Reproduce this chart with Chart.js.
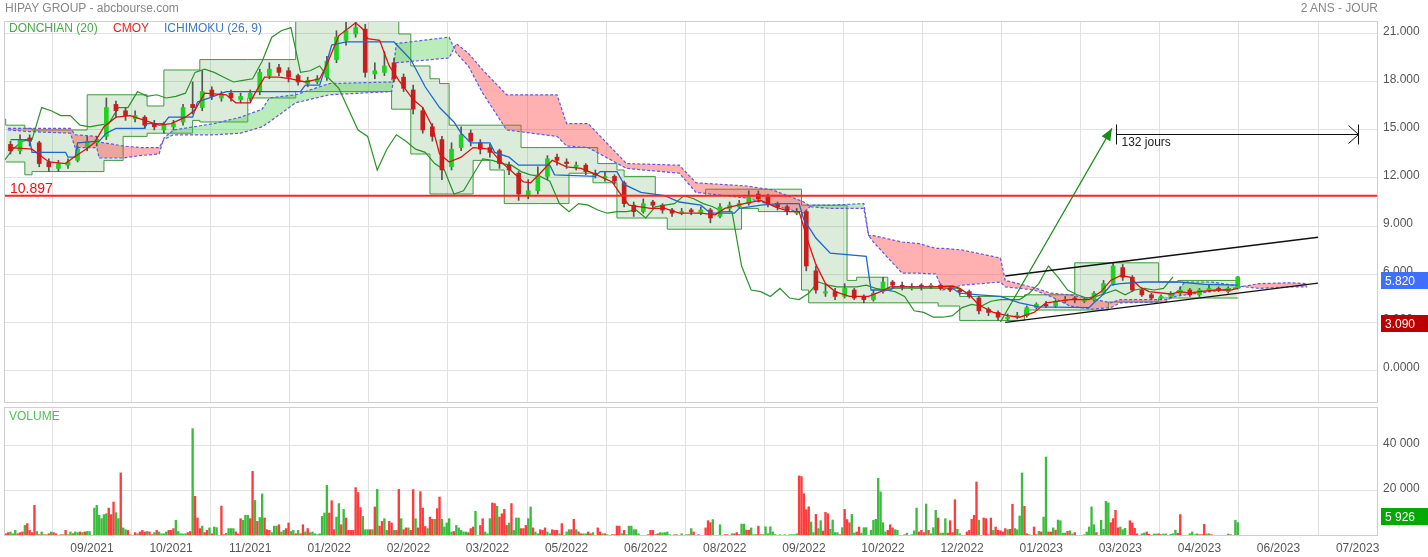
<!DOCTYPE html>
<html>
<head>
<meta charset="utf-8">
<title>HIPAY GROUP - abcbourse.com</title>
<script src="https://cdn.jsdelivr.net/npm/chart.js@4.4.1/dist/chart.umd.min.js"></script>
<style>
  html, body { margin: 0; padding: 0; background: #fff; }
  #wrap { position: relative; width: 1428px; height: 557px; overflow: hidden; font-family: 'Liberation Sans', Arial, sans-serif; }
  #priceCanvas { position: absolute; left: 0; top: 0; }
  #volumeCanvas { position: absolute; left: 0; top: 405px; }
  .lbl { position: absolute; font-size: 12px; line-height: 14px; white-space: nowrap; }
</style>
</head>
<body>
<div id="wrap">
  <canvas id="priceCanvas" width="1428" height="405"></canvas>
  <canvas id="volumeCanvas" width="1428" height="152"></canvas>
  <div class="lbl" style="left:5px;top:1px;color:#888">HIPAY GROUP - abcbourse.com</div>
  <div class="lbl" style="right:50px;top:1px;color:#888">2 ANS - JOUR</div>
  <div class="lbl" style="left:9px;top:21px;color:#4aa84a">DONCHIAN (20)</div>
  <div class="lbl" style="left:113px;top:21px;color:#e82020">CMOY</div>
  <div class="lbl" style="left:164px;top:21px;color:#3a78c8">ICHIMOKU (26, 9)</div>
  <div class="lbl" style="left:9px;top:409px;color:#55bb55">VOLUME</div>
</div>
<script>
// x axis is counted in trading days from the first session shown
const tickDays = [36, 69, 102, 135, 168, 201, 234, 267, 300, 333, 366, 399, 432, 465, 498, 531, 564];
const tickLabels = ['09/2021', '10/2021', '11/2021', '01/2022', '02/2022', '03/2022', '05/2022', '06/2022',
  '08/2022', '09/2022', '10/2022', '12/2022', '01/2023', '03/2023', '04/2023', '06/2023', '07/2023'];
const priceTicks = [0, 3, 6, 9, 12, 15, 18, 21];
const volumeTicks = [20000, 40000];

// candles, one every 4 sessions
const candleOpen = [
  14.1, 13.7, 14.5, 14.2, 13.0, 12.6, 12.8, 13.1, 13.9, 14.2,
  14.6, 16.6, 16.2, 15.7, 15.8, 15.4, 15.0, 15.2, 15.5, 16.6,
  16.4, 17.5, 17.0, 17.3, 16.9, 17.0, 17.4, 18.4, 18.9, 18.7,
  18.4, 17.9, 18.0, 18.3, 19.4, 20.6, 21.0, 21.3, 18.5, 18.6,
  19.2, 18.3, 17.5, 16.2, 15.2, 14.4, 12.7, 13.9, 14.8, 14.2,
  13.9, 13.7, 12.8, 12.3, 10.9, 11.2, 12.1, 13.3, 13.0, 12.7,
  12.8, 12.3, 12.0, 12.1, 11.7, 10.3, 9.9, 10.5, 10.3, 10.0,
  9.8, 10.0, 9.8, 10.0, 9.6, 10.1, 10.2, 10.4, 11.0, 10.8,
  10.4, 10.2, 9.8, 9.9, 6.2, 4.8, 4.9, 4.6, 5.0, 4.6,
  4.4, 4.9, 5.5, 5.3, 5.1, 5.3, 5.2, 5.3, 5.1, 5.0,
  4.9, 4.5, 3.8, 3.6, 3.2, 3.3, 3.4, 3.9, 4.1, 4.0,
  4.3, 4.5, 4.3, 4.4, 4.8, 5.4, 6.4, 5.8, 5.0, 4.7,
  4.5, 4.6, 4.8, 5.0, 4.7, 5.0, 5.1, 4.9, 5.1
];
const candleHigh = [
  14.3, 14.7, 14.7, 14.3, 13.2, 13.1, 13.2, 14.0, 14.6, 14.6,
  17.0, 16.8, 16.4, 16.2, 15.9, 15.6, 15.5, 15.6, 16.6, 18.0,
  18.7, 17.7, 17.4, 17.5, 17.3, 17.5, 18.8, 19.2, 19.1, 18.9,
  18.5, 18.3, 18.4, 19.6, 21.2, 21.8, 22.0, 21.6, 19.2, 19.9,
  19.5, 18.5, 17.8, 16.4, 15.4, 14.6, 14.2, 15.2, 15.0, 14.4,
  14.1, 13.8, 13.0, 12.4, 11.9, 12.7, 13.4, 13.5, 13.2, 13.0,
  12.9, 12.5, 12.4, 12.2, 11.8, 10.5, 10.7, 10.6, 10.4, 10.1,
  10.1, 10.1, 10.2, 10.1, 10.4, 10.5, 10.6, 11.2, 11.2, 11.0,
  10.5, 10.3, 10.1, 10.0, 6.5, 5.4, 5.1, 5.4, 5.1, 4.7,
  5.0, 5.8, 5.6, 5.5, 5.4, 5.4, 5.4, 5.4, 5.2, 5.1,
  5.0, 4.6, 3.9, 3.7, 3.5, 3.6, 4.0, 4.2, 4.3, 4.4,
  4.6, 4.6, 4.5, 4.9, 5.6, 6.7, 6.6, 5.9, 5.1, 4.8,
  4.7, 4.9, 5.2, 5.1, 5.1, 5.3, 5.2, 5.2, 5.85
];
const candleLow = [
  13.5, 13.5, 14.0, 12.7, 12.4, 12.4, 12.6, 13.0, 13.7, 14.0,
  14.4, 15.8, 15.6, 15.5, 15.1, 15.0, 14.8, 15.0, 15.3, 16.0,
  16.2, 16.9, 16.8, 16.8, 16.7, 16.8, 17.2, 18.2, 18.4, 18.0,
  17.8, 17.7, 17.9, 18.1, 19.2, 20.3, 20.8, 18.3, 18.2, 18.4,
  18.0, 17.4, 16.0, 14.8, 14.3, 11.9, 12.5, 13.7, 14.0, 13.5,
  13.3, 12.6, 12.2, 10.6, 10.7, 11.0, 11.9, 12.8, 12.6, 12.5,
  12.2, 12.0, 11.8, 11.6, 10.2, 9.6, 9.8, 10.1, 9.8, 9.6,
  9.7, 9.7, 9.7, 9.2, 9.5, 9.9, 10.1, 10.3, 10.5, 10.2,
  10.0, 9.7, 9.7, 6.2, 4.8, 4.6, 4.4, 4.5, 4.4, 4.2,
  4.3, 4.8, 5.1, 5.0, 5.0, 5.0, 5.1, 5.0, 4.9, 4.7,
  4.5, 3.5, 3.4, 3.1, 3.1, 3.2, 3.3, 3.8, 3.9, 3.9,
  4.2, 4.2, 4.2, 4.3, 4.7, 5.3, 5.6, 4.9, 4.6, 4.4,
  4.4, 4.5, 4.7, 4.6, 4.6, 4.9, 4.9, 4.8, 5.05
];
const candleClose = [
  13.7, 14.4, 14.3, 12.9, 12.7, 12.9, 13.0, 13.8, 14.3, 14.4,
  16.4, 16.2, 15.9, 15.9, 15.3, 15.2, 15.3, 15.4, 16.4, 16.4,
  17.4, 17.1, 17.2, 17.0, 17.1, 17.3, 18.6, 18.8, 18.6, 18.3,
  18.0, 18.1, 18.2, 19.3, 20.8, 21.2, 21.4, 18.6, 18.7, 19.0,
  18.2, 17.6, 16.3, 15.0, 14.6, 12.5, 13.8, 14.7, 14.3, 13.8,
  13.6, 12.9, 12.5, 11.0, 11.2, 12.2, 13.2, 13.1, 12.9, 12.8,
  12.4, 12.2, 12.1, 11.8, 10.4, 9.9, 10.4, 10.3, 10.0, 9.8,
  9.9, 9.9, 10.0, 9.5, 10.2, 10.3, 10.4, 10.9, 10.7, 10.4,
  10.2, 9.9, 9.9, 6.5, 5.0, 4.9, 4.6, 5.1, 4.5, 4.4,
  4.8, 5.5, 5.3, 5.2, 5.2, 5.2, 5.3, 5.1, 5.0, 4.9,
  4.6, 3.7, 3.6, 3.3, 3.3, 3.4, 3.9, 4.1, 4.0, 4.3,
  4.4, 4.4, 4.4, 4.8, 5.4, 6.5, 5.8, 5.0, 4.7, 4.5,
  4.6, 4.8, 5.0, 4.7, 5.0, 5.1, 5.0, 5.1, 5.82
];
const chikouShift = 27;

// Donchian (20) channel, read as steps
const donchDays = [0, 8, 11, 34, 41, 49, 59, 66, 78, 81, 101, 121, 133, 161, 164, 169, 177, 181, 185, 195,
  202, 208, 215, 223, 235, 245, 247, 255, 258, 271, 276, 292, 307, 314, 332, 335, 336, 351, 355, 368,
  389, 398, 405, 425, 446, 460, 467, 481, 489, 514];
const donchHigh = [15.7, 15.3, 15.1, 15.0, 17.2, 17.2, 17.2, 16.5, 18.75, 18.75, 19.4, 19.4, 23, 23, 23, 21.0, 19.0, 18.2, 17.9, 15.3,
  15.3, 15.3, 15.3, 13.9, 13.9, 13.9, 13.9, 12.9, 12.5, 12.1, 10.9, 10.9, 11.3, 11.3, 11.3, 10.3, 10.3, 10.3, 5.6, 5.8,
  5.1, 5.1, 4.6, 4.6, 4.7, 6.7, 6.7, 6.7, 5.5, 5.6];
const donchLow = [13.0, 13.0, 12.2, 12.4, 12.4, 13.1, 14.6, 14.8, 14.8, 15.6, 15.5, 17.0, 17.4, 17.4, 16.3, 16.3, 13.5, 11.0, 11.0, 11.0,
  13.1, 12.5, 10.4, 10.4, 10.4, 12.3, 11.7, 11.7, 9.5, 9.5, 9.5, 8.8, 8.8, 10.1, 9.9, 5.0, 4.2, 4.2, 4.2, 4.2,
  4.2, 4.0, 3.1, 3.1, 3.75, 3.75, 4.25, 4.25, 4.5, 4.5];

// CMOY
const cmoyDays = [2, 11, 18, 25, 28, 33, 37, 41, 46, 52, 58, 64, 69, 75, 79, 83, 92, 96, 102, 104,
  108, 114, 119, 125, 131, 134, 139, 146, 149, 151, 156, 160, 164, 170, 174, 178, 181, 185, 190, 195,
  202, 206, 212, 216, 219, 223, 228, 234, 240, 245, 253, 256, 260, 269, 275, 281, 290, 296, 300, 308,
  315, 321, 327, 331, 335, 338, 342, 346, 352, 360, 365, 369, 386, 395, 398, 402, 406, 412, 418, 423,
  429, 434, 444, 452, 457, 461, 465, 469, 473, 477, 486, 490, 494, 498, 505, 511, 514];
const cmoyValues = [13.9, 13.8, 13.0, 12.9, 13.25, 13.75, 14.2, 15.2, 15.8, 15.9, 15.6, 15.3, 15.4, 15.8, 16.25, 17.3, 17.2, 16.7, 16.7, 17.3,
  18.3, 18.3, 18.2, 18.0, 18.2, 19.1, 20.9, 21.7, 21.3, 20.7, 20.6, 19.0, 18.1, 16.9, 16.4, 15.2, 13.5, 13.0, 13.3, 13.9,
  13.8, 13.1, 12.3, 11.75, 11.7, 12.3, 13.1, 12.7, 12.6, 12.3, 11.75, 11.1, 10.3, 10.1, 10.1, 9.8, 9.8, 9.7, 10.1, 10.4,
  10.6, 10.2, 9.9, 9.9, 7.9, 6.6, 5.4, 4.9, 4.6, 4.6, 4.9, 5.2, 5.2, 5.25, 5.1, 4.7, 4.06, 3.6, 3.4, 3.3,
  3.6, 4.2, 4.4, 4.4, 4.9, 5.6, 5.9, 5.8, 5.2, 4.9, 4.75, 4.9, 4.8, 4.9, 5.0, 5.0, 5.1];

// Ichimoku base line
const kijunDays = [2, 10, 11, 25, 26, 29, 30, 39, 42, 46, 58, 59, 66, 68, 78, 80, 85, 92, 123, 125,
  131, 133, 136, 142, 162, 169, 175, 181, 187, 190, 194, 202, 204, 210, 214, 227, 229, 246, 248, 255,
  258, 265, 275, 281, 290, 294, 304, 306, 315, 323, 331, 333, 338, 344, 359, 361, 369, 371, 394, 398,
  406, 415, 423, 431, 452, 454, 457, 461, 465, 475, 490, 500, 514];
const kijunValues = [14.4, 14.4, 13.6, 13.6, 13.3, 13.3, 14.2, 14.3, 14.8, 15.1, 15.1, 15.4, 15.4, 15.8, 15.8, 16.75, 17.0, 17.4, 17.4, 17.8,
  17.8, 18.75, 20.3, 20.5, 20.5, 19.4, 17.7, 16.4, 15.5, 14.8, 14.2, 14.2, 13.6, 13.3, 12.8, 12.8, 12.2, 12.1, 12.4, 12.4,
  11.6, 11.1, 10.9, 10.5, 10.3, 9.8, 9.8, 10.1, 10.3, 10.4, 10.4, 9.4, 8.25, 7.3, 7.1, 5.0, 5.0, 5.2, 5.2, 4.8,
  4.7, 4.6, 4.2, 3.95, 3.9, 4.2, 4.6, 5.3, 5.4, 5.5, 5.5, 5.35, 5.3];

// Ichimoku cloud (leading spans, already shifted forward)
const cloudDays = [1, 10, 27, 29, 38, 39, 49, 56, 64, 66, 70, 87, 98, 107, 110, 121, 135, 161, 163, 185,
  188, 193, 199, 209, 230, 234, 243, 259, 281, 288, 309, 320, 333, 336, 344, 358, 360, 362, 374, 381,
  388, 391, 399, 415, 417, 429, 436, 444, 453, 461, 465, 484, 488, 492, 503, 512, 517, 523, 536, 543];
const spanA = [15.0, 14.9, 14.8, 13.9, 13.9, 13.25, 13.25, 13.4, 13.5, 14.5, 15.0, 15.4, 15.8, 16.3, 17.0, 17.2, 17.9, 18.0, 20.4, 20.8,
  19.8, 19.0, 17.3, 15.0, 14.6, 14.0, 13.9, 12.6, 12.3, 11.1, 10.75, 10.3, 9.8, 10.3, 10.3, 10.4, 8.4, 8.0, 6.05, 6.05,
  6.0, 5.0, 5.3, 5.5, 5.2, 5.0, 4.6, 4.0, 3.8, 3.9, 4.2, 4.25, 4.8, 5.5, 5.5, 5.3, 5.2, 5.1, 5.2, 5.2];
const spanB = [15.1, 15.1, 15.1, 14.7, 14.6, 14.25, 14.0, 13.9, 13.9, 14.4, 14.7, 14.7, 14.8, 15.2, 15.5, 16.7, 17.2, 17.4, 19.2, 19.5,
  20.4, 19.8, 18.75, 17.2, 17.2, 15.4, 15.4, 12.9, 12.8, 11.7, 11.5, 11.25, 10.5, 10.2, 10.1, 10.1, 8.4, 8.4, 8.0, 7.9,
  7.6, 7.6, 7.5, 7.0, 5.6, 5.15, 4.8, 4.7, 4.45, 4.2, 4.4, 4.4, 4.6, 4.7, 4.9, 5.1, 5.25, 5.4, 5.45, 5.4];

// drawings on the price panel
const refLevel = 10.897;
const channelUpper = [[417, 5.875], [547.5, 8.3]];
const channelLower = [[417, 2.98], [547.5, 5.43]];
const arrowUp = [[415, 3.0], [461.5, 15.1]];
const measureDays = [463, 564];
const measureLevel = 14.75;
const measureLabel = '132 jours';
const lastPrice = 5.82;
const lowPrice = 3.09;

// daily volume, and the direction of each session (g up, r down)
const volumes = [
  1000, 1500, 1800, 1000, 2500, 1000, 1500, 1800, 4700, 5500,
  2500, 1500, 13600, 2000, 600, 1800, 600, 600, 1000, 1800,
  1500, 1000, 300, 600, 600, 2500, 600, 1800, 1000, 1800,
  1500, 1800, 1500, 1800, 2000, 2000, 300, 12400, 13600, 9200,
  7700, 9500, 9900, 12400, 9500, 15100, 10400, 7700, 28000, 3600,
  2800, 2500, 600, 300, 1500, 1000, 1800, 2500, 1800, 2000,
  1800, 600, 1500, 2500, 1800, 1000, 1000, 1800, 2500, 2500,
  3300, 7000, 2000, 1000, 900, 1000, 1500, 2000, 47700, 17600,
  8000, 3300, 4400, 1500, 2500, 3600, 1000, 4000, 3700, 300,
  13300, 600, 1200, 3300, 3300, 3300, 1800, 900, 7700, 7000,
  9200, 9200, 7700, 28700, 15800, 6500, 8200, 18700, 8000, 2800,
  2500, 1500, 4400, 4400, 5000, 1800, 2500, 3300, 5800, 2000,
  2500, 1000, 2500, 1000, 5000, 1800, 3300, 1500, 1800, 1000,
  600, 1000, 8700, 10200, 22500, 10200, 15700, 2800, 8400, 14400,
  5000, 11800, 8000, 2500, 2500, 2500, 21500, 19300, 12600, 8700,
  2800, 2800, 2800, 2800, 12900, 20700, 4400, 6500, 7700, 2500,
  6500, 5800, 2500, 2500, 20700, 7700, 2800, 3600, 3600, 2500,
  20600, 7700, 3600, 19700, 12400, 4200, 3300, 8400, 7400, 7400,
  12150, 17300, 7400, 4000, 5800, 7700, 1800, 2000, 4700, 3600,
  2500, 1800, 1800, 1500, 3300, 4000, 11000, 300, 4700, 7700,
  1800, 1000, 7700, 14700, 14400, 13200, 8400, 9900, 11800, 4700,
  5800, 14400, 2500, 8000, 8000, 3300, 3300, 4700, 7700, 12900,
  3600, 1800, 1000, 2800, 2500, 3600, 1800, 1000, 2800, 2500,
  2500, 1000, 5500, 300, 1800, 2800, 2800, 7400, 2800, 1800,
  1000, 1000, 1000, 1800, 1000, 1500, 300, 3600, 1800, 1000,
  1000, 600, 300, 600, 600, 4400, 4400, 1000, 2500, 600,
  4400, 4400, 2800, 2800, 1000, 300, 300, 300, 600, 2500,
  2500, 600, 1000, 1500, 1400, 1500, 1800, 600, 300, 600,
  600, 300, 1000, 300, 600, 600, 3300, 1800, 300, 600,
  300, 300, 3600, 6800, 5900, 7300, 300, 300, 5000, 300,
  600, 600, 300, 1000, 1000, 1500, 600, 5300, 5300, 2600,
  2600, 3600, 600, 600, 4400, 600, 600, 4100, 1000, 4100,
  1800, 600, 300, 600, 300, 600, 300, 600, 600, 600,
  1000, 26700, 26400, 18800, 11700, 13000, 6200, 1500, 9600, 3300,
  6800, 2200, 10500, 9900, 3000, 7100, 1500, 1500, 600, 3700,
  11800, 7300, 5900, 9600, 1300, 1800, 4000, 1300, 3700, 3700,
  300, 2600, 7000, 7400, 25600, 19600, 5900, 1800, 2500, 5000,
  3600, 2800, 2600, 300, 300, 600, 1300, 300, 600, 2300,
  12400, 1800, 2500, 1500, 14200, 2500, 1000, 3700, 11400, 8000,
  1300, 1300, 7700, 1300, 6800, 1500, 16100, 3000, 1000, 300,
  300, 1800, 2500, 7400, 9200, 24000, 7000, 300, 8000, 7700,
  600, 8000, 2500, 4000, 2500, 2300, 1800, 3300, 2800, 3000,
  14100, 3300, 2800, 8900, 28000, 13200, 1000, 600, 300, 4000,
  600, 2100, 1800, 8400, 35100, 1800, 1800, 3600, 2600, 7100,
  6800, 1300, 1300, 2100, 2300, 900, 1500, 300, 300, 300,
  600, 1800, 4000, 12900, 5000, 1500, 300, 7000, 3000, 15400,
  14700, 5900, 7700, 11400, 3600, 4000, 2800, 3400, 300, 6800,
  5800, 3400, 1000, 300, 1000, 1300, 1800, 800, 300, 900,
  900, 1000, 600, 900, 900, 300, 800, 1000, 2600, 1200,
  9500, 300, 200, 300, 1000, 1800, 600, 1000, 600, 600,
  5200, 900, 1000, 600, 300, 300, 300, 300, 300, 300,
  900, 600, 300, 7000, 5926
];
const volumeDir = [
  'rrgggrrrgr', 'rrrgrgrgrg', 'rrgrgrggrg', 'grgrggrggg', 'gggrrrggrg', 'grggrgrrrg', 'rrgrggggrr', 'rgggggrrgr',
  'rrgrrgrggr', 'rrggggrrrg', 'ggrrgrggrr', 'rgggrggrrg', 'grgrrgrggg', 'gggggrrrgg', 'rgrrrrrrrg', 'ggrgrgrrgg',
  'rrgrrgrrgr', 'rgrrrrgrrg', 'rrgggggrgg', 'gggrrrgrrr', 'gggrrgrrrr', 'grgggrrrgg', 'rggrrrggrr', 'rgrgggrrgr',
  'rggrrggrrg', 'rggrrrrgrg', 'ggggggrgrr', 'rgrggggggr', 'gggrgrgrgr', 'grrrrggrgg', 'rrggrrrggr', 'rggrrrgggg',
  'ggggggrggg', 'grrrrrggrg', 'grrrggggrg', 'rrrggrrggg', 'ggggggggrr', 'rgggrrgggg', 'grrrgrgggr', 'gggrrrrggg',
  'grrrrrggrr', 'rrgrrrrrgr', 'rggggrrggr', 'rgrggrrgrg', 'gggrggrrgr', 'gggggrrggg', 'grrrrggggr', 'rrrgggrrrg',
  'grrggggggr', 'rrggggggrr', 'rggrgggrgg', 'grggg'
].join('');
const lastVolume = 5926;

Chart.defaults.font.family = "'Liberation Sans', Arial, sans-serif";
Chart.defaults.font.size = 12;
Chart.defaults.color = '#555';
Chart.defaults.animation = false;

const X_MIN = -0.7, X_MAX = 572.5;
const GRID = '#e2e2e2';
const FONT = "'Liberation Sans', Arial, sans-serif";

function xAxis(showLabels) {
  return {
    type: 'linear', min: X_MIN, max: X_MAX, offset: false,
    grid: { color: GRID, drawTicks: false },
    border: { display: false },
    ticks: {
      display: showLabels, autoSkip: false, maxRotation: 0, padding: 5, color: '#555',
      callback: (v, i) => tickLabels[i]
    },
    afterBuildTicks: s => { s.ticks = tickDays.map(v => ({ value: v })); },
    afterFit: s => { s.height = showLabels ? 21 : 0; }
  };
}

// right-hand axis: fixed width, and no extra room reserved for its end labels
function yAxis(min, max, ticks, format) {
  return {
    position: 'right', min: min, max: max,
    grid: { color: GRID, drawTicks: false },
    border: { display: false },
    ticks: { padding: 5, color: '#555', labelOffset: -2, callback: format },
    afterBuildTicks: s => { s.ticks = ticks.map(v => ({ value: v })); },
    afterFit: s => { s.width = 50; s.paddingTop = 0; s.paddingBottom = 0; }
  };
}

const pts = (xs, ys) => xs.map((x, i) => ({ x: x, y: ys[i] }));
const pairPts = arr => arr.map(p => ({ x: p[0], y: p[1] }));
const lineStyle = (color, width) => ({ type: 'line', borderColor: color, borderWidth: width, pointRadius: 0, fill: false, tension: 0 });

const candleX = candleOpen.map((_, i) => 2 + 4 * i);
const bodyColors = candleOpen.map((o, i) => candleClose[i] >= o ? '#1ed21e' : '#c81e1e');

function frame(chart) {
  const { ctx, chartArea: a } = chart;
  ctx.save();
  ctx.strokeStyle = '#cfcfcf';
  ctx.lineWidth = 1;
  ctx.strokeRect(a.left + 0.5, a.top + 0.5, a.right - a.left - 1, a.bottom - a.top - 1);
  ctx.restore();
}

function valueBox(ctx, left, cy, text, bg) {
  ctx.fillStyle = bg;
  ctx.fillRect(left, Math.round(cy - 8.5), 1428 - left, 17);
  ctx.fillStyle = '#fff';
  ctx.font = '12px ' + FONT;
  ctx.textBaseline = 'middle';
  ctx.textAlign = 'left';
  ctx.fillText(text, left + 4, Math.round(cy) + 0.5);
}

const priceDecor = {
  id: 'priceDecor',
  afterDatasetsDraw(chart) {
    const { ctx, chartArea: a, scales: { x, y } } = chart;
    ctx.save();
    ctx.beginPath();
    ctx.rect(a.left, a.top, a.right - a.left, a.bottom - a.top);
    ctx.clip();

    // level label
    ctx.fillStyle = '#ee1111';
    ctx.font = '14px ' + FONT;
    ctx.textBaseline = 'alphabetic';
    ctx.fillText(refLevel.toFixed(3), a.left + 6, y.getPixelForValue(refLevel) - 3);

    // head of the green arrow
    const p0 = [x.getPixelForValue(arrowUp[0][0]), y.getPixelForValue(arrowUp[0][1])];
    const p1 = [x.getPixelForValue(arrowUp[1][0]), y.getPixelForValue(arrowUp[1][1])];
    const ang = Math.atan2(p1[1] - p0[1], p1[0] - p0[0]);
    const c = Math.cos(ang), s = Math.sin(ang);
    ctx.fillStyle = '#1a8a1a';
    ctx.beginPath();
    ctx.moveTo(p1[0], p1[1]);
    ctx.lineTo(p1[0] - 12 * c + 5 * s, p1[1] - 12 * s - 5 * c);
    ctx.lineTo(p1[0] - 12 * c - 5 * s, p1[1] - 12 * s + 5 * c);
    ctx.closePath();
    ctx.fill();

    // duration measure
    const mx0 = Math.round(x.getPixelForValue(measureDays[0])) + 0.5;
    const mx1 = Math.round(x.getPixelForValue(measureDays[1])) + 0.5;
    const my = Math.round(y.getPixelForValue(measureLevel)) + 0.5;
    ctx.strokeStyle = '#111';
    ctx.lineWidth = 1;
    ctx.beginPath();
    ctx.moveTo(mx0, my); ctx.lineTo(mx1, my);
    ctx.moveTo(mx0, my - 10); ctx.lineTo(mx0, my + 10);
    ctx.moveTo(mx1, my - 10); ctx.lineTo(mx1, my + 10);
    ctx.moveTo(mx1 - 10, my - 9); ctx.lineTo(mx1, my); ctx.lineTo(mx1 - 10, my + 9);
    ctx.stroke();
    ctx.fillStyle = '#222';
    ctx.font = '12px ' + FONT;
    ctx.textBaseline = 'middle';
    ctx.fillText(measureLabel, mx0 + 5, my + 8);
    ctx.restore();
  },
  afterDraw(chart) {
    frame(chart);
    const { ctx, chartArea: a, scales: { y } } = chart;
    ctx.save();
    valueBox(ctx, a.right + 3, y.getPixelForValue(lastPrice) + 4, lastPrice.toFixed(3), '#3f6fff');
    valueBox(ctx, a.right + 3, y.getPixelForValue(lowPrice) + 3, lowPrice.toFixed(3), '#bb0000');
    ctx.restore();
  }
};

new Chart(document.getElementById('priceCanvas'), {
  type: 'line',
  data: {
    datasets: [
      Object.assign(lineStyle('#3d9a3d', 1), { data: pts(donchDays, donchHigh), stepped: 'after', fill: '+1', backgroundColor: 'rgba(40,140,40,0.17)', order: 20 }),
      Object.assign(lineStyle('#3d9a3d', 1), { data: pts(donchDays, donchLow), stepped: 'after', order: 19 }),
      Object.assign(lineStyle('#5060e8', 1.2), { data: pts(cloudDays, spanA), borderDash: [3, 2],
        fill: { target: '+1', above: 'rgba(60,200,60,0.35)', below: 'rgba(255,60,60,0.4)' }, order: 18 }),
      Object.assign(lineStyle('#7050e0', 1.2), { data: pts(cloudDays, spanB), borderDash: [3, 2], order: 17 }),
      Object.assign(lineStyle('#2a922a', 1.2), { data: candleClose.map((v, i) => ({ x: candleX[i] - chikouShift, y: v })), order: 16 }),
      { type: 'bar', data: candleX.map((x, i) => ({ x: x, y: [candleLow[i], candleHigh[i]] })),
        backgroundColor: '#555', barThickness: 1, grouped: false, order: 15 },
      { type: 'bar', data: candleX.map((x, i) => ({ x: x, y: [candleOpen[i], candleClose[i]] })),
        backgroundColor: bodyColors, barThickness: 4, grouped: false, order: 14 },
      Object.assign(lineStyle('#1f66cc', 1.3), { data: pts(kijunDays, kijunValues), order: 13 }),
      Object.assign(lineStyle('#dd1111', 1.3), { data: pts(cmoyDays, cmoyValues), order: 12 }),
      Object.assign(lineStyle('#ff2222', 2), { data: [{ x: X_MIN, y: refLevel }, { x: X_MAX, y: refLevel }], order: 11 }),
      Object.assign(lineStyle('#111', 1.4), { data: pairPts(channelUpper), order: 10 }),
      Object.assign(lineStyle('#111', 1.4), { data: pairPts(channelLower), order: 9 }),
      Object.assign(lineStyle('#1a8a1a', 1.2), { data: pairPts(arrowUp), order: 8 })
    ]
  },
  options: {
    responsive: false,
    devicePixelRatio: 1,
    events: [],
    layout: { padding: { left: 4, top: 21, right: 0, bottom: 2 } },
    plugins: { legend: { display: false }, tooltip: { enabled: false } },
    scales: {
      x: xAxis(false),
      y: yAxis(-2.06, 21.81, priceTicks, v => v === 0 ? '0.0000' : v.toFixed(3))
    }
  },
  plugins: [priceDecor]
});

const fmtThousands = v => String(v).replace(/\B(?=(\d{3})+(?!\d))/g, ' ');

const volumeDecor = {
  id: 'volumeDecor',
  afterDraw(chart) {
    frame(chart);
    const { ctx, chartArea: a, scales: { y } } = chart;
    ctx.save();
    valueBox(ctx, a.right + 3, y.getPixelForValue(lastVolume) - 6, fmtThousands(lastVolume), '#00aa00');
    ctx.restore();
  }
};

new Chart(document.getElementById('volumeCanvas'), {
  type: 'bar',
  data: {
    datasets: [{
      data: volumes.map((v, i) => ({ x: i, y: v })),
      backgroundColor: volumes.map((_, i) => volumeDir[i] === 'g' ? '#3cbc3c' : '#ff3b3b'),
      barThickness: 1.7,
      grouped: false
    }]
  },
  options: {
    responsive: false,
    devicePixelRatio: 1,
    events: [],
    layout: { padding: { left: 4, top: 2, right: 0, bottom: 0 } },
    plugins: { legend: { display: false }, tooltip: { enabled: false } },
    scales: {
      x: xAxis(true),
      y: yAxis(0, 57300, volumeTicks, v => fmtThousands(v))
    }
  },
  plugins: [volumeDecor]
});
</script>
</body>
</html>
